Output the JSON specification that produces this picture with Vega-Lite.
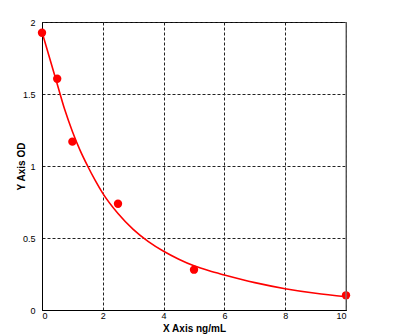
{
  "$schema": "https://vega.github.io/schema/vega-lite/v6.json",
  "width": 304,
  "height": 288,
  "autosize": {"type": "none"},
  "padding": {"left": 42, "top": 22, "right": 48, "bottom": 26},
  "background": "white",
  "config": {
    "view": {"stroke": "black", "strokeWidth": 1},
    "axis": {
      "labelFont": "Liberation Sans",
      "labelFontSize": 9,
      "labelColor": "black",
      "titleFont": "Liberation Sans",
      "titleFontSize": 10,
      "titleFontWeight": "bold",
      "titleColor": "black",
      "domainColor": "black",
      "ticks": false,
      "tickSize": 0,
      "gridColor": "#222222",
      "gridDash": [3, 2],
      "gridWidth": 1
    }
  },
  "datasets": {
    "points": [
      {"x": 0, "y": 1.925},
      {"x": 0.5, "y": 1.606},
      {"x": 1, "y": 1.169},
      {"x": 2.5, "y": 0.738},
      {"x": 5, "y": 0.28},
      {"x": 10, "y": 0.102}
    ],
    "curve": [
      {"x": 0, "y": 1.93},
      {"x": 0.25, "y": 1.75},
      {"x": 0.5, "y": 1.57},
      {"x": 0.75, "y": 1.39},
      {"x": 1.0, "y": 1.24},
      {"x": 1.25, "y": 1.11},
      {"x": 1.5, "y": 1.0},
      {"x": 1.75, "y": 0.9},
      {"x": 2.0, "y": 0.81},
      {"x": 2.5, "y": 0.67},
      {"x": 3.0, "y": 0.56},
      {"x": 3.5, "y": 0.475},
      {"x": 4.0, "y": 0.408},
      {"x": 4.5, "y": 0.353},
      {"x": 5.0, "y": 0.307},
      {"x": 5.5, "y": 0.272},
      {"x": 6.0, "y": 0.243},
      {"x": 7.0, "y": 0.19},
      {"x": 8.0, "y": 0.148},
      {"x": 9.0, "y": 0.116},
      {"x": 10.0, "y": 0.092}
    ],
    "edge": [{"x": 10}]
  },
  "layer": [
    {
      "data": {"name": "curve"},
      "mark": {"type": "line", "color": "#ff0000", "strokeWidth": 1.6, "interpolate": "monotone", "clip": false},
      "encoding": {
        "x": {
          "field": "x", "type": "quantitative",
          "scale": {"domain": [0, 10], "nice": false, "zero": false},
          "axis": {
            "title": "X Axis ng/mL",
            "values": [0, 2, 4, 6, 8, 10],
            "labelPadding": 1,
            "titleX": 152,
            "titleY": 18,
            "titleBaseline": "middle",
            "titleAlign": "center"
          }
        },
        "y": {
          "field": "y", "type": "quantitative",
          "scale": {"domain": [0, 2], "nice": false, "zero": false},
          "axis": {
            "title": "Y Axis OD",
            "values": [0, 0.5, 1, 1.5, 2],
            "format": "~g",
            "labelPadding": 7,
            "titleX": -21,
            "titleY": 144,
            "titleAngle": 270,
            "titleBaseline": "middle",
            "titleAlign": "center"
          }
        }
      }
    },
    {
      "data": {"name": "points"},
      "mark": {"type": "circle", "color": "#ff0000", "opacity": 1, "size": 70, "clip": false},
      "encoding": {
        "x": {"field": "x", "type": "quantitative"},
        "y": {"field": "y", "type": "quantitative"}
      }
    },
    {
      "data": {"name": "edge"},
      "mark": {"type": "rule", "color": "#808080", "strokeWidth": 1.2},
      "encoding": {
        "x": {"field": "x", "type": "quantitative"}
      }
    }
  ]
}
